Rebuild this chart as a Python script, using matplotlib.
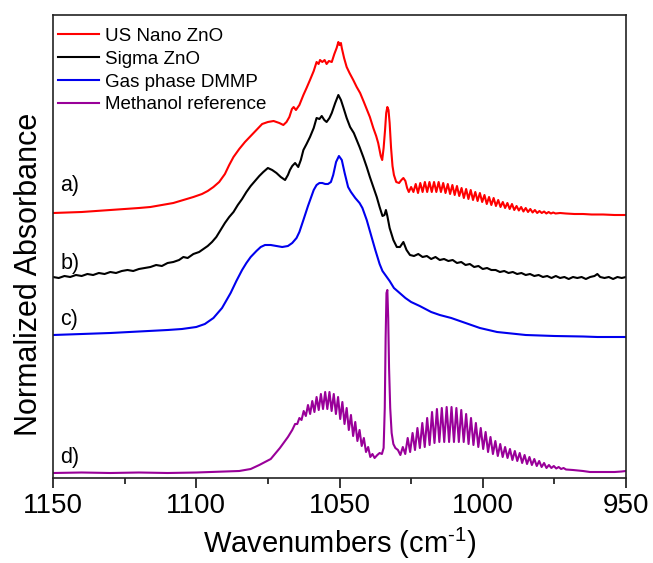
import matplotlib
matplotlib.use("Agg")
import matplotlib.pyplot as plt
from matplotlib.ticker import MultipleLocator

plt.rcParams['font.family'] = ['Liberation Sans', 'DejaVu Sans']
plt.rcParams['mathtext.default'] = 'regular'

# espectros (absorbância normalizada já com deslocamento, unidades arbitrárias)
nano_w = [1150, 1145, 1140, 1135, 1130, 1125, 1120, 1116, 1112, 1108, 1104.5, 1101, 1098, 1096, 1094, 1092,
          1090, 1088.5, 1087, 1085, 1083, 1081, 1079, 1077, 1075, 1073, 1071, 1069.6, 1068.5, 1067.5, 1066.6,
          1066, 1065.2, 1064, 1062.6, 1061.5, 1060.3, 1059, 1058, 1057.3, 1056.8, 1056, 1055.2, 1054.5, 1053.7,
          1052.7, 1051.8, 1051, 1050.4, 1050, 1049.5, 1049.2, 1048.4, 1047.5, 1046.5, 1045.2, 1044, 1042.8,
          1041.5, 1040.4, 1039.4, 1038.2, 1037.2, 1036.5, 1035.6, 1035.1, 1034.6, 1034.1, 1033.7, 1033.3,
          1032.9, 1032.5, 1032, 1031.5, 1031, 1030.2, 1029.2, 1028.4, 1027.7, 1027, 1026.4, 1025.8,
          1025.0, 1024.2, 1023.4, 1022.6, 1021.8, 1021.0, 1020.2, 1019.4, 1018.6, 1017.8, 1017.0, 1016.2,
          1015.4, 1014.6, 1013.8, 1013.0, 1012.2, 1011.4, 1010.6, 1009.8, 1009.0, 1008.2, 1007.4, 1006.6,
          1005.8, 1005.0, 1004.2, 1003.4, 1002.6, 1001.8, 1001.0, 1000.2, 999.4, 998.6, 997.8, 997.0,
          996.2, 995.4, 994.6, 993.8, 993.0, 992.2, 991.4, 990.6, 989.8, 989.0, 988.2, 987.4, 986.6, 985.8,
          985.0, 984.2, 983.4, 982.6, 981.8, 981.0, 980.2, 979.4, 978.6, 977.8, 977.0, 976.2, 975.4, 974.6,
          973, 971, 968, 965, 962, 958, 954, 950]
nano_a = [265, 265.5, 266, 267, 268, 269, 270, 271, 273, 275, 278, 281, 284, 287, 291, 296,
          304, 313, 321, 329, 336, 342, 348, 354, 356, 357, 355, 353, 356, 361, 369,
          371, 368, 373, 383, 390, 398, 407, 416, 414, 418, 416, 418, 414, 417,
          416, 424, 430, 436, 433, 435, 430, 420, 411, 405, 398, 391, 385,
          376, 368, 361, 350, 342, 335, 322, 318, 330, 348, 365, 371,
          368, 355, 330, 312, 303, 296, 295, 298, 300, 297, 290, 286,
          291, 286, 294, 285, 295, 286, 296, 286, 296, 286, 296, 286,
          296, 286, 295, 285, 294, 284, 293, 283, 292, 282, 290, 280,
          289, 279, 288, 278, 286, 277, 285, 276, 283, 274, 281, 273,
          280, 272, 278, 271, 276, 270, 275, 269, 274, 268, 272, 267.5, 271, 266.5,
          270, 266, 269, 265.5, 268, 265, 267, 265, 266.5, 264.5, 266, 264.5, 265.5, 264.5,
          265, 264.5, 264, 264, 263.5, 263.5, 263, 263]

sigma_w = [1150, 1148, 1146, 1144, 1142, 1140, 1138, 1136, 1134, 1132, 1130, 1128, 1126, 1124, 1122, 1120,
           1118, 1116, 1114, 1112, 1110, 1108, 1106, 1104.5, 1103, 1101, 1099, 1097.5, 1096, 1094.5, 1093,
           1091.5, 1090, 1088.5, 1087, 1085.5, 1084, 1082.5, 1081, 1079.5, 1078, 1076.6, 1075, 1073.5, 1072,
           1070.5, 1069, 1068, 1067.3, 1066.5, 1065.5, 1064.4, 1063.5, 1062.6, 1061.5, 1060.3, 1059, 1058,
           1057, 1056.2, 1055.3, 1054.5, 1053.5, 1052.7, 1051.5, 1050.4, 1049.5, 1048.7, 1047.5, 1046.3, 1045,
           1044, 1043, 1041.7, 1040.5, 1039.4, 1038.2, 1037, 1036, 1035, 1034.3, 1033.8, 1033.3, 1032.5,
           1031.2, 1030, 1028.9, 1027.7, 1026.6, 1025.4, 1024, 1022.5, 1021, 1019.5, 1018, 1016.5, 1015,
           1013.5, 1012, 1010.5, 1009, 1007.5, 1006, 1004.5, 1003, 1001.5, 1000, 998.5, 997, 995.5, 994,
           992.5, 991, 989.5, 988, 986.5, 985, 983.5, 982, 980.5, 979, 977.5, 976, 974.5, 973, 971.5, 970,
           968.5, 967, 965.5, 964, 962.5, 961, 960, 959, 957.5, 956, 954.5, 953, 951.5, 950]
sigma_a = [201, 200, 202, 201, 203, 202, 204, 203, 205, 204, 206, 205, 207, 208, 207, 209,
           210, 211, 213, 212, 215, 216, 218, 221, 220, 224, 226, 229, 232, 236, 241,
           248, 255, 261, 266, 273, 279, 286, 292, 297, 302, 306, 310, 308, 305,
           301, 298, 303, 308, 312, 315, 311, 318, 328, 334, 341, 350, 360,
           359, 362, 358, 356, 360, 365, 375, 383, 378, 371, 360, 351, 345,
           338, 331, 321, 311, 301, 291, 281, 271, 262, 263, 268, 262, 250,
           238, 231, 231, 236, 228, 223, 222, 224, 221, 222, 219, 221, 218,
           219, 217, 218, 215, 216, 213, 214, 211, 212, 209, 210, 208, 208, 206,
           207, 205, 206, 204, 205, 203, 204, 202, 203, 201, 202, 200, 202, 200, 201, 199,
           201, 200, 201, 199, 201, 202, 204, 201, 200, 201, 199, 201, 200, 201]

dmmp_w = [1150, 1140, 1130, 1120, 1110, 1105, 1100, 1097, 1094, 1091, 1088, 1086, 1084, 1082.5, 1081,
          1079, 1077.5, 1076, 1074, 1072, 1070, 1068, 1066.5, 1065, 1064, 1062.6, 1061, 1059, 1058, 1057,
          1056, 1055, 1054, 1053, 1052.2, 1051.2, 1050.2, 1049.2, 1048.2, 1047, 1046, 1044.5, 1043, 1042,
          1040.5, 1039, 1037.5, 1036, 1035, 1034, 1032.5, 1031, 1029, 1027, 1025, 1022, 1018, 1015, 1011,
          1008, 1005, 1001, 998, 995, 990, 985, 975, 965, 960, 950]
dmmp_a = [143, 144, 145, 146.5, 148, 149, 151, 154, 160, 170, 185, 197, 208, 215, 221,
          227, 231, 233, 233, 232, 231, 232, 235, 240, 246, 258, 272, 288, 293, 295,
          295, 294, 294, 296, 303, 316, 322, 318, 305, 291, 286, 280, 275, 270,
          258, 243, 228, 214, 207, 203, 197, 190, 185, 180, 176, 172, 166, 163, 160,
          157, 154, 150, 148, 146, 144.5, 143, 142, 141.5, 141, 141]

metanol_w = [1150, 1140, 1130, 1120, 1110, 1100, 1095, 1090, 1085, 1081, 1078, 1074, 1070.8, 1068,
             1066.5, 1065.5, 1064.75, 1064.0, 1063.25, 1062.5, 1061.75, 1061.0, 1060.25, 1059.5, 1058.75,
             1058.0, 1057.25, 1056.5, 1055.75, 1055.0, 1054.25, 1053.5, 1052.75, 1052.0, 1051.25, 1050.5,
             1049.75, 1049.0, 1048.25, 1047.5, 1046.75, 1046.0, 1045.25, 1044.5, 1043.75, 1043.0, 1042.25,
             1041.5, 1040.75, 1040.0, 1039.25, 1038.5, 1037.75, 1036.8, 1036, 1035.2, 1034.6, 1034.2,
             1033.9, 1033.6, 1033.3, 1033.0, 1032.7, 1032.3, 1031.8, 1031.2, 1030.5,
             1029.6, 1028.75, 1027.9, 1027.05, 1026.2, 1025.35, 1024.5, 1023.65, 1022.8, 1021.95, 1021.1,
             1020.25, 1019.4, 1018.55, 1017.7, 1016.85, 1016.0, 1015.15, 1014.3, 1013.45, 1012.6, 1011.75,
             1010.9, 1010.05, 1009.2, 1008.35, 1007.5, 1006.65, 1005.8, 1004.95, 1004.1, 1003.25, 1002.4,
             1001.55, 1000.7, 999.85, 999.0, 998.15, 997.3, 996.45, 995.6, 994.75, 993.9, 993.05, 992.2,
             991.35, 990.5, 989.65, 988.8, 987.95, 987.1, 986.25, 985.4, 984.55, 983.7, 982.85, 982.0,
             981.15, 980.3, 979.45, 978.6, 977.75, 976.9, 976.05, 975.2, 974.35, 973.5, 972.65, 971.8,
             970.95, 968.5, 965, 962.6, 958, 954, 951.5, 950]
metanol_a = [5, 5.5, 5, 5.5, 5, 5.5, 6, 6.5, 7, 9, 13, 19, 30, 41,
             48, 54, 54, 60, 58, 67, 62, 73, 64, 77, 66,
             81, 68, 84, 69, 86, 69, 86, 67, 84, 64, 81,
             59, 76, 54, 70, 48, 63, 42, 56, 37, 48, 32,
             40, 26, 31, 21, 24, 20, 23, 25, 24, 30, 70,
             140, 185, 188, 160, 110, 70, 45, 34, 30,
             28, 23, 31, 24, 40, 26, 45, 28, 50, 30, 55,
             31, 60, 33, 66, 35, 69, 36, 70, 36, 71, 36,
             71, 36, 70, 36, 68, 36, 64, 34, 60, 33, 55,
             31, 50, 29, 46, 26, 41, 24, 37, 22, 34, 21, 31,
             20, 29, 18, 27, 17, 25, 15, 23, 14, 21, 13, 19,
             12, 17, 11, 15, 10, 13, 10, 12, 9.5, 11, 9, 10,
             8.5, 8, 7, 6, 6, 6, 6.5, 7]

series = [
    (nano_w, nano_a, "#FF0000", "US Nano ZnO"),
    (sigma_w, sigma_a, "#000000", "Sigma ZnO"),
    (dmmp_w, dmmp_a, "#0000EE", "Gas phase DMMP"),
    (metanol_w, metanol_a, "#990099", "Methanol reference"),
]

rotulos = ["a)", "b)", "c)", "d)"]
altura_rotulos = [293, 214, 158, 20]

fig = plt.figure(figsize=(6.53, 5.63), dpi=100)
ax = fig.add_axes([53 / 653, 85 / 563, 573 / 653, 463 / 563])

for w, a, cor, nome in series:
    ax.plot(w, a, color=cor, lw=1.5, label=nome)

for rotulo, altura in zip(rotulos, altura_rotulos):
    ax.text(1147.5, altura, rotulo, fontsize=15.5, ha='left', va='center')

ax.set_xlim(1150, 950)
ax.set_ylim(0, 463)
ax.set_yticks([])
ax.xaxis.set_major_locator(MultipleLocator(50))
ax.xaxis.set_minor_locator(MultipleLocator(25))
ax.tick_params(axis='x', which='major', direction='out', length=7, width=1.1, labelsize=20, pad=3.5)
ax.tick_params(axis='x', which='minor', direction='out', length=4, width=1.1)
for lado in ax.spines.values():
    lado.set_linewidth(1.2)
    lado.set_color('#222222')

# expoente com hífen curto, como no original
ax.set_xlabel("Wavenumbers (cm$^{\u2010" + "1}$)", fontsize=21, labelpad=5)
ax.set_ylabel("Normalized Absorbance", fontsize=22)
ax.yaxis.set_label_coords(-0.016, 0.44)

ax.legend(loc='upper left', bbox_to_anchor=(0, 0.983), frameon=False, fontsize=13.5,
          borderaxespad=0, borderpad=0.27, labelspacing=0.3, handlelength=2.2, handletextpad=0.3)

fig.savefig("out.png", dpi=100)
